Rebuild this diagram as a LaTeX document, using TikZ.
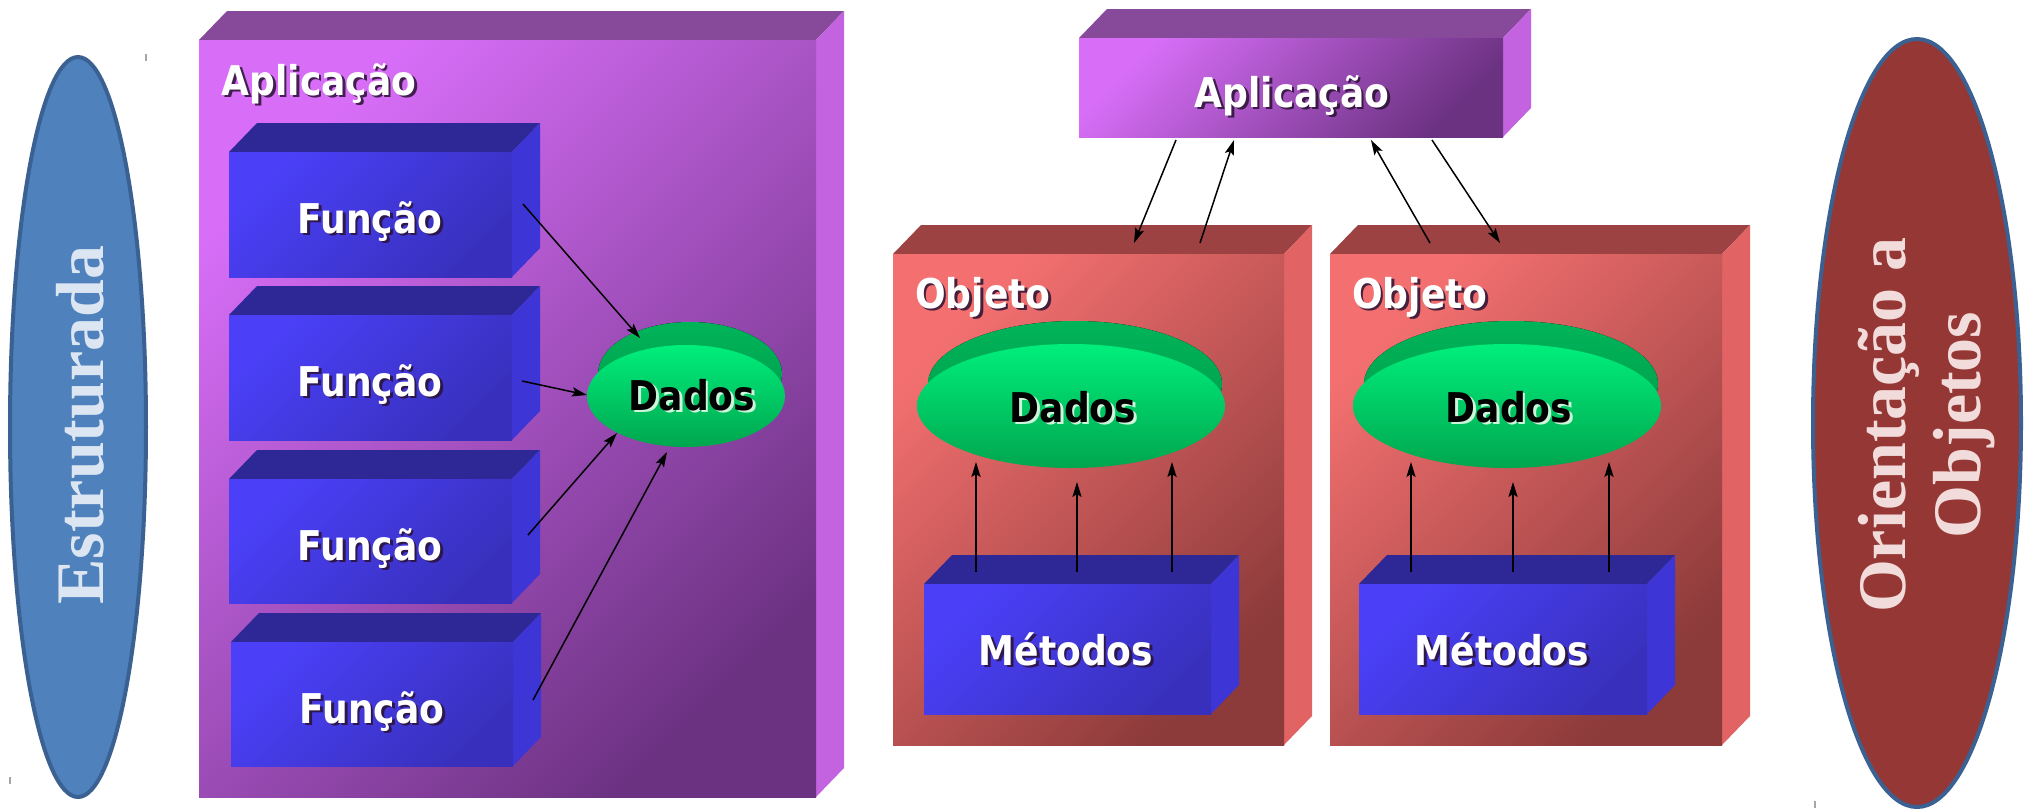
\documentclass[tikz,border=0pt]{standalone}
\usepackage{fontspec}
\usetikzlibrary{arrows.meta,fit,shapes.geometric}
\newfontfamily\boxfont[FakeStretch=0.88]{DejaVu Sans}
\newfontfamily\capsfont{Liberation Serif}

% palette
\definecolor{stblue}{HTML}{4F81BD}
\definecolor{stedge}{HTML}{3A6191}
\definecolor{stink}{HTML}{DCE6F2}
\definecolor{oored}{HTML}{953735}
\definecolor{ooink}{HTML}{F2DCDB}
\definecolor{purA}{HTML}{D86EF8}
\definecolor{purB}{HTML}{6C3282}
\definecolor{purtop}{HTML}{874A9B}
\definecolor{purside}{HTML}{C463E0}
\definecolor{bluA}{HTML}{4B40F8}
\definecolor{bluB}{HTML}{3830BC}
\definecolor{blutop}{HTML}{2D2896}
\definecolor{bluside}{HTML}{3E35D6}
\definecolor{redA}{HTML}{F47070}
\definecolor{redB}{HTML}{8C3A3A}
\definecolor{redtop}{HTML}{9C4242}
\definecolor{redside}{HTML}{E16363}
\definecolor{rimA}{HTML}{00B45A}
\definecolor{rimB}{HTML}{009A48}
\definecolor{grnA}{HTML}{00EE7C}
\definecolor{grnB}{HTML}{00A64E}
\definecolor{whiteshade}{HTML}{2A1234}
\definecolor{blackshade}{HTML}{F0FFF0}

\tikzset{
  boxlbl/.style={font=\boxfont\bfseries\fontsize{20.5}{24}\selectfont, inner sep=0pt, anchor=base},
  arr/.style={line width=0.75pt, -{Stealth[length=7.5pt,width=4.6pt,inset=1.5pt]}},
  sidelbl/.style={font=\capsfont\bfseries\fontsize{34}{37.5}\selectfont, inner sep=0pt, rotate=90, align=center},
  rim/.style={top color=rimA, bottom color=rimB},
  disc/.style={top color=grnA, bottom color=grnB},
  tick/.style={draw=gray!70, line width=0.6pt},
}

% a 3D slab: front face (x1,y1)-(x2,y2), with a top face and a right face
\newcommand{\slab}[6]{%
  \fill[#6top] (#2,#3) -- (#2+28,#3-29) -- (#4+28,#3-29) -- (#4,#3) -- cycle;
  \fill[#6side] (#4,#3) -- (#4+28,#3-29) -- (#4+28,#5-29) -- (#4,#5) -- cycle;
  \shade[top color=#6A, bottom color=#6B, shading angle=45] (#2,#3) rectangle (#4,#5);
  \coordinate (#1-nw) at (#2,#3);
  \coordinate (#1-se) at (#4,#5);
  \node[inner sep=0pt, fit=(#1-nw)(#1-se)] (#1) {};
}

% a label with a drop shadow: name, x, baseline y, text, colour
\newcommand{\shlabel}[5]{%
  \node[boxlbl, text=#5shade, opacity=0.85] at (#2+2.5,#3+2.5) {#4};
  \node[boxlbl, text=#5] (#1) at (#2,#3) {#4};
}

% a green data disc: name, centre x, centre y, x radius, y radius
\newcommand{\datadisc}[5]{%
  \fill[rim] (#2+4,#3-22) ellipse [x radius=#4-7, y radius=#5+1];
  \node[ellipse, disc, inner sep=0pt, minimum width=#4*1pt, minimum height=#5*1pt] (#1) at (#2,#3) {};
}

\begin{document}
\begin{tikzpicture}[x=0.5pt,y=-0.5pt]
\useasboundingbox (0,0) rectangle (2025,810);
\fill[white] (0,0) rectangle (2025,810);

% side captions
\node[ellipse, draw=stedge, line width=2pt, fill=stblue, inner sep=0pt,
      minimum width=68pt, minimum height=370pt] (estr) at (78,427) {};
\node[sidelbl, text=stink, anchor=base] (estrtxt) at (103,425) {Estruturada};

\node[ellipse, draw=stedge, line width=2pt, fill=oored, inner sep=0pt,
      minimum width=104pt, minimum height=384pt] (oo) at (1917,423) {};
\node[sidelbl, text=ooink] (ootxt) at (1927,425) {Orientação a\\Objetos};

% small marks
\draw[tick] (146,54) -- (146,61);
\draw[tick] (10,777) -- (10,784);
\draw[tick] (1815,801) -- (1815,808);

% ---------- structured: application with functions ----------
\slab{app}{199}{40}{816}{797}{pur}
\shlabel{apptxt}{319}{95}{Aplicação}{white}

\slab{fun1}{229}{152}{512}{277}{blu}
\slab{fun2}{229}{315}{512}{440}{blu}
\slab{fun3}{229}{479}{512}{603}{blu}
\slab{fun4}{231}{642}{513}{766}{blu}
\shlabel{fun1txt}{370}{233}{Função}{white}
\shlabel{fun2txt}{370}{396}{Função}{white}
\shlabel{fun3txt}{370}{560}{Função}{white}
\shlabel{fun4txt}{372}{723}{Função}{white}

\datadisc{dados}{686}{396}{99}{51}
\shlabel{dadostxt}{692}{410}{Dados}{black}

\coordinate (f1o) at (523,204);  \coordinate (d1) at (640,338);
\coordinate (f2o) at (522,381);  \coordinate (d2) at (587,395);
\coordinate (f3o) at (528,535);  \coordinate (d3) at (617,433);
\coordinate (f4o) at (533,700);  \coordinate (d4) at (667,452);
\draw[arr] (f1o) -- (d1);
\draw[arr] (f2o) -- (d2);
\draw[arr] (f3o) -- (d3);
\draw[arr] (f4o) -- (d4);

% ---------- object oriented: application and objects ----------
\slab{topapp}{1079}{38}{1503}{137}{pur}
\shlabel{topapptxt}{1292}{107}{Aplicação}{white}

\slab{objL}{893}{254}{1284}{745}{red}
\slab{objR}{1330}{254}{1722}{745}{red}
\shlabel{objLtxt}{983}{308}{Objeto}{white}
\shlabel{objRtxt}{1420}{308}{Objeto}{white}

\datadisc{dadosL}{1071}{406}{154}{62}
\datadisc{dadosR}{1507}{406}{154}{62}
\shlabel{dadosLtxt}{1073}{422}{Dados}{black}
\shlabel{dadosRtxt}{1509}{422}{Dados}{black}

\slab{metL}{924}{584}{1211}{714}{blu}
\slab{metR}{1359}{584}{1647}{714}{blu}
\shlabel{metLtxt}{1066}{665}{Métodos}{white}
\shlabel{metRtxt}{1502}{665}{Métodos}{white}

% messages between the application and the objects
\coordinate (a1s) at (1176,140); \coordinate (a1e) at (1134,243);
\coordinate (a2s) at (1200,243); \coordinate (a2e) at (1234,140);
\coordinate (a3s) at (1430,243); \coordinate (a3e) at (1371,140);
\coordinate (a4s) at (1432,140); \coordinate (a4e) at (1500,243);
\draw[arr] (a1s) -- (a1e);
\draw[arr] (a2s) -- (a2e);
\draw[arr] (a3s) -- (a3e);
\draw[arr] (a4s) -- (a4e);

% methods acting on the data
\foreach \side/\xa/\xb/\xc in {L/976/1077/1172, R/1411/1513/1609}{
  \coordinate (m\side1) at (\xa,572); \coordinate (t\side1) at (\xa,462);
  \coordinate (m\side2) at (\xb,572); \coordinate (t\side2) at (\xb,482);
  \coordinate (m\side3) at (\xc,572); \coordinate (t\side3) at (\xc,462);
  \draw[arr] (m\side1) -- (t\side1);
  \draw[arr] (m\side2) -- (t\side2);
  \draw[arr] (m\side3) -- (t\side3);
}
\end{tikzpicture}
\end{document}
